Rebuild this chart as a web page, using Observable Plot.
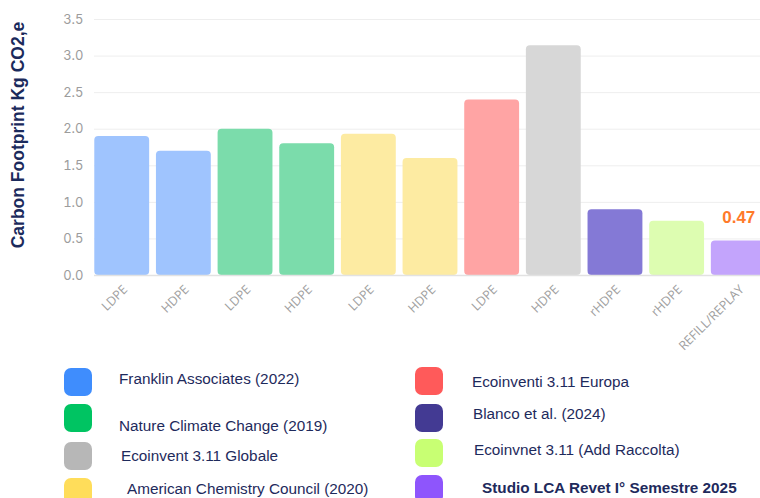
<!DOCTYPE html>
<html>
<head>
<meta charset="utf-8">
<script src="https://cdn.jsdelivr.net/npm/d3@7"></script>
<script src="https://cdn.jsdelivr.net/npm/@observablehq/plot@0.6"></script>
<style>
  html, body { margin: 0; padding: 0; background: #fff; overflow: hidden; width: 760px; height: 498px; }
  #wrap { position: relative; width: 760px; height: 498px; overflow: hidden; }
  #chart { position: absolute; left: 0; top: 0; }
  .sw { position: absolute; width: 28px; height: 28px; border-radius: 7px; }
  .lt { position: absolute; font-family: "Liberation Sans", Arial, sans-serif; font-size: 15.3px; line-height: 18px; color: #1e2a5c; white-space: nowrap; }
  #chart g[aria-label="x-axis tick label"] text { font-size: 12.5px !important; font-family: "Open Sans", sans-serif !important; }
  #chart g[aria-label="y-axis tick label"] text { font-size: 13px !important; font-family: Inter, Lato, sans-serif !important; }
</style>
</head>
<body>
<div id="wrap"><div id="chart"></div></div>
<script>
// ---- data ----
const categories = ["LDPE","HDPE","LDPE","HDPE","LDPE","HDPE","LDPE","HDPE","rHDPE","rHDPE","REFILL/REPLAY"];
const values = [1.90, 1.70, 2.00, 1.80, 1.93, 1.60, 2.40, 3.14, 0.90, 0.74, 0.47];
const barColors = ["#9fc4fe","#9fc4fe","#7bdcab","#7bdcab","#fdeba2","#fdeba2","#ffa4a4","#d7d7d7","#8479d6","#ddfdb1","#c3a4fc"];
const yTicks = [0, 0.5, 1.0, 1.5, 2.0, 2.5, 3.0, 3.5];
const highlightLabel = ["0.47"];
const yTitle = "Carbon Footprint Kg CO2,e";

const legendLabels = [
  "Franklin Associates (2022)",
  "Nature Climate Change (2019)",
  "Ecoinvent 3.11 Globale",
  "American Chemistry Council (2020)",
  "Ecoinventi 3.11 Europa",
  "Blanco et al. (2024)",
  "Ecoinvnet 3.11 (Add Raccolta)",
  "Studio LCA Revet I° Semestre 2025"
];
const legendColors = ["#3f8dfd","#00c462","#b7b7b7","#ffdd5a","#ff5a5a","#433a93","#c8ff73","#8e55fc"];
const legendBold = [false,false,false,false,false,false,false,true];
// layout: [swatchX, swatchY, textX, textCenterY]
const legendLayout = [
  [64,368,119,379],[64,404,119,426],[64,442,121,456],[64,478,127,489],
  [415,367,472,382],[415,404,473,414],[415,439,474,450],[415,475,482,488]
];

const data = values.map((v, i) => ({i, label: categories[i], value: v, color: barColors[i]}));
const last = [data[data.length - 1]];

const plot = Plot.plot({
  width: 760,
  height: 360,
  marginLeft: 94,
  marginRight: 0,
  marginTop: 19,
  marginBottom: 85,
  style: {background: "transparent", overflow: "hidden"},
  x: {type: "band", domain: d3.range(categories.length), range: [87.5, 772.5], padding: 0.11, round: false},
  y: {domain: [0, 3.5]},
  marks: [
    Plot.ruleY(yTicks.slice(1), {stroke: "#eeeeee", strokeWidth: 1}),
    Plot.barY(data, {x: "i", y: "value", fill: "color", rx: 4}),
    Plot.ruleY([0], {stroke: "#e2e2e2", strokeWidth: 1.5}),
    Plot.axisY({ticks: yTicks, tickFormat: d => d.toFixed(1), tickSize: 0, tickPadding: 11, label: null,
      fontSize: 13, fill: "#9c9c9c"}),
    Plot.axisX({tickFormat: i => categories[i], tickRotate: -45, tickSize: 0, tickPadding: 12, label: null,
      fontSize: 12.5, fill: "#a0a0a0", dx: 3}),
    Plot.text(last, {x: "i", y: "value", text: () => highlightLabel[0], dy: -24, fill: "#ff7a2a",
      fontSize: 17, fontWeight: "bold", fontFamily: "'Liberation Sans', Arial, sans-serif"})
  ]
});

d3.select(plot).append("text")
  .attr("transform", "translate(24,135) rotate(-90)")
  .attr("text-anchor", "middle")
  .attr("font-family", "'Liberation Sans', Arial, sans-serif")
  .attr("font-size", 17.5)
  .attr("font-weight", "bold")
  .attr("fill", "#1b2a5c")
  .text(yTitle);

document.getElementById("chart").appendChild(plot);

const wrap = document.getElementById("wrap");
legendLabels.forEach((lab, k) => {
  const [sx, sy, tx, ty] = legendLayout[k];
  const sw = document.createElement("div");
  sw.className = "sw";
  sw.style.left = sx + "px";
  sw.style.top = sy + "px";
  sw.style.background = legendColors[k];
  wrap.appendChild(sw);
  const t = document.createElement("div");
  t.className = "lt";
  t.style.left = tx + "px";
  t.style.top = (ty - 9) + "px";
  if (legendBold[k]) t.style.fontWeight = "bold";
  t.textContent = lab;
  wrap.appendChild(t);
});
</script>
</body>
</html>
